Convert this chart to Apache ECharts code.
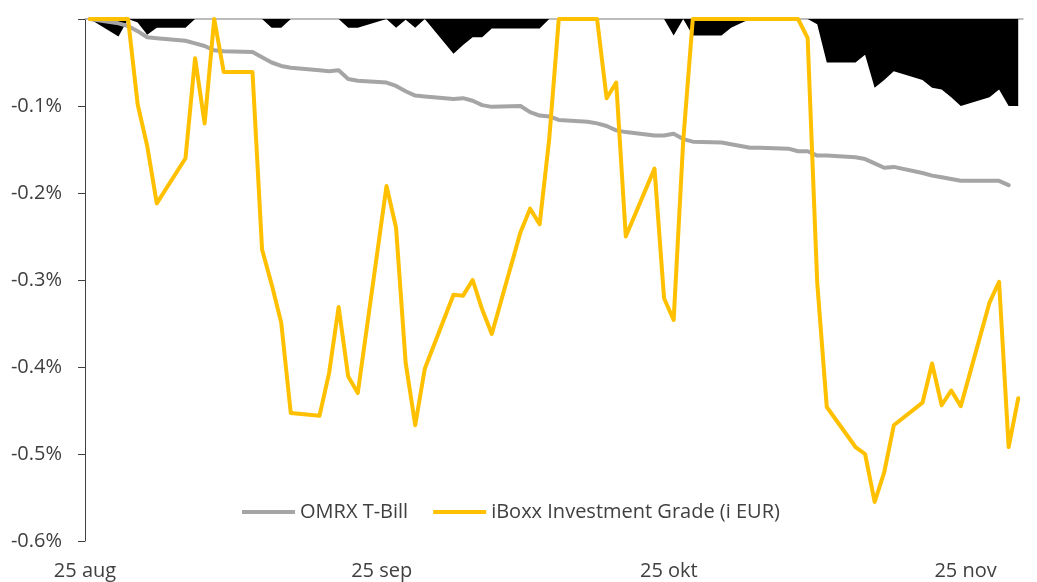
<!DOCTYPE html>
<html><head><meta charset="utf-8">
<script src="https://cdn.jsdelivr.net/npm/echarts@6/dist/echarts.min.js"></script>
<style>html,body{margin:0;padding:0;background:#fff}#c{width:1037px;height:582px}</style>
</head><body><div id="c"></div>
<script>
// Business days, 25 Aug 2017 - 30 Nov 2017
const dates = [
 '2017-08-25',
 '2017-08-28','2017-08-29','2017-08-30','2017-08-31','2017-09-01',
 '2017-09-04','2017-09-05','2017-09-06','2017-09-07','2017-09-08',
 '2017-09-11','2017-09-12','2017-09-13','2017-09-14','2017-09-15',
 '2017-09-18','2017-09-19','2017-09-20','2017-09-21','2017-09-22',
 '2017-09-25','2017-09-26','2017-09-27','2017-09-28','2017-09-29',
 '2017-10-02','2017-10-03','2017-10-04','2017-10-05','2017-10-06',
 '2017-10-09','2017-10-10','2017-10-11','2017-10-12','2017-10-13',
 '2017-10-16','2017-10-17','2017-10-18','2017-10-19','2017-10-20',
 '2017-10-23','2017-10-24','2017-10-25','2017-10-26','2017-10-27',
 '2017-10-30','2017-10-31','2017-11-01','2017-11-02','2017-11-03',
 '2017-11-06','2017-11-07','2017-11-08','2017-11-09','2017-11-10',
 '2017-11-13','2017-11-14','2017-11-15','2017-11-16','2017-11-17',
 '2017-11-20','2017-11-21','2017-11-22','2017-11-23','2017-11-24',
 '2017-11-27','2017-11-28','2017-11-29','2017-11-30'
];
// drawdown, in percent
const omrx = [
 0,
 -0.005,-0.008,-0.014,-0.021,-0.022,
 -0.025,-0.028,-0.031,-0.036,-0.037,
 -0.038,-0.044,-0.050,-0.054,-0.056,
 -0.059,-0.060,-0.059,-0.069,-0.071,
 -0.073,-0.077,-0.083,-0.088,-0.089,
 -0.092,-0.091,-0.094,-0.099,-0.101,
 -0.100,-0.107,-0.111,-0.112,-0.116,
 -0.118,-0.120,-0.123,-0.128,-0.130,
 -0.134,-0.134,-0.132,-0.138,-0.141,
 -0.142,-0.144,-0.146,-0.148,-0.148,
 -0.149,-0.152,-0.152,-0.157,-0.157,
 -0.159,-0.161,-0.166,-0.171,-0.170,
 -0.177,-0.180,-0.182,-0.184,-0.186,
 -0.186,-0.186,-0.191,null
];
const iboxx = [
 0,
 0,0,-0.098,-0.146,-0.212,
 -0.160,-0.045,-0.120,0,-0.061,
 -0.061,-0.265,-0.305,-0.349,-0.453,
 -0.456,-0.407,-0.331,-0.411,-0.430,
 -0.192,-0.240,-0.395,-0.467,-0.402,
 -0.317,-0.318,-0.300,-0.334,-0.362,
 -0.245,-0.218,-0.236,-0.138,0,
 0,0,-0.091,-0.073,-0.250,
 -0.172,-0.321,-0.346,-0.140,0,
 0,0,0,0,0,
 0,0,-0.022,-0.303,-0.446,
 -0.492,-0.500,-0.555,-0.521,-0.467,
 -0.441,-0.396,-0.444,-0.427,-0.445,
 -0.326,-0.302,-0.492,-0.436
];
const fund = [
 0,
 -0.020,0,-0.004,-0.018,-0.010,
 -0.010,0,0,0,0,
 0,0,-0.010,-0.010,0,
 0,0,0,-0.010,-0.010,
 0,-0.010,-0.001,-0.010,0,
 -0.040,-0.030,-0.021,-0.021,-0.011,
 -0.011,-0.011,-0.011,0,0,
 0,0,0,0,0,
 0,0,-0.019,0,-0.019,
 -0.019,-0.010,-0.005,0,0,
 0,0,0,-0.006,-0.050,
 -0.050,-0.041,-0.079,-0.070,-0.060,
 -0.070,-0.079,-0.081,-0.090,-0.100,
 -0.090,-0.081,-0.100,-0.100
];
const tickDates = ['2017-08-25','2017-09-25','2017-10-25','2017-11-25'];
const tickLabels = ['25 aug','25 sep','25 okt','25 nov'];
const seriesNames = ['OMRX T-Bill','iBoxx Investment Grade (i EUR)'];

const origin = Date.UTC(2017,7,25);
function dayOf(s){const p=s.split('-').map(Number);return (Date.UTC(p[0],p[1]-1,p[2])-origin)/864e5;}
const xs = dates.map(s=>dayOf(s)+0.5);
const tickX = tickDates.map(dayOf);
function pts(arr){const out=[];arr.forEach((v,i)=>{if(v!==null)out.push([xs[i],v]);});return out;}

const FONT = 'Open Sans';
const TXT = '#404040';
const chart = echarts.init(document.getElementById('c'));
chart.setOption({
  animation:false,
  backgroundColor:'#fff',
  grid:{left:85,right:14,top:19,bottom:41,containLabel:false},
  legend:{
    data:[{name:seriesNames[0],icon:'rect'},{name:seriesNames[1],icon:'rect'}],
    left:237, top:497, itemWidth:53, itemHeight:4, itemGap:25,
    textStyle:{fontFamily:FONT,fontSize:20,color:TXT}
  },
  xAxis:[{
    type:'value', min:0, max:98, position:'bottom',
    axisLine:{show:false,onZero:false}, axisTick:{show:false}, splitLine:{show:false},
    axisLabel:{customValues:tickX, margin:20, fontFamily:FONT, fontSize:20, color:TXT,
      formatter:v=>{const k=tickX.indexOf(Math.round(v));return k>=0?tickLabels[k]:'';}}
  },{
    type:'value', min:0, max:98, position:'top',
    axisLine:{show:true,onZero:false,lineStyle:{color:'#a6a6a6',width:1.5}},
    axisTick:{show:false}, axisLabel:{show:false}, splitLine:{show:false}
  }],
  yAxis:{
    type:'value', min:-0.6, max:0, interval:0.1,
    axisLine:{show:true,lineStyle:{color:TXT,width:1}},
    axisTick:{show:true,length:7,lineStyle:{color:TXT}},
    splitLine:{show:false},
    axisLabel:{margin:23,fontFamily:FONT,fontSize:20,color:TXT,
      formatter:v=>Math.abs(v)<1e-9?'':v.toFixed(1)+'%'}
  },
  series:[
    {name:'fund',type:'line',data:pts(fund),symbol:'none',z:1,silent:true,
     lineStyle:{width:0,color:'#000'},itemStyle:{color:'#000'},
     areaStyle:{color:'#000',opacity:1}},
    {name:seriesNames[0],type:'line',data:pts(omrx),symbol:'none',z:2,
     itemStyle:{color:'#a5a5a5'},
     lineStyle:{color:'#a5a5a5',width:4,join:'round',cap:'round'}},
    {name:seriesNames[1],type:'line',data:pts(iboxx),symbol:'none',z:3,
     itemStyle:{color:'#ffc000'},
     lineStyle:{color:'#ffc000',width:4,join:'round',cap:'round'}}
  ]
});
</script></body></html>
